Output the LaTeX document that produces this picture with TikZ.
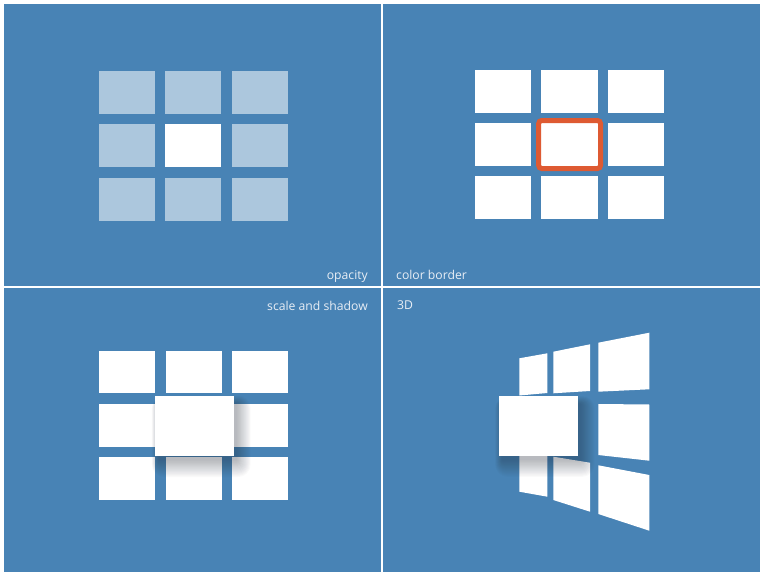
\documentclass[tikz,border=0pt]{standalone}
\usepackage{fontspec}
\setmainfont{Open Sans}
\definecolor{panelblue}{RGB}{72,131,181}
\definecolor{borderorange}{RGB}{222,90,50}
\definecolor{labeltext}{RGB}{232,238,245}
\definecolor{shadowc}{RGB}{20,30,45}
\tikzset{
  panel/.style={fill=panelblue},
  tile/.style={fill=white},
  fadedtile/.style={fill=white, fill opacity=0.55},
  bigtile/.style={draw=none, fill=white, inner sep=0pt, rectangle},
  label/.style={text=labeltext, font=\fontsize{12.2}{14}\selectfont, inner sep=0pt},
}
% soft shadow under a rectangle given by its corners (x1,y1) (x2,y2)
\newcommand\softshadow[4]{%
  \foreach \i in {1,...,16}{
    \fill[shadowc, opacity=0.02, rounded corners={\i*0.8pt}]
      ({#1+4-\i*0.45},{#2+8-\i*0.5}) rectangle ({#3+3+\i*0.9},{#4+4+\i*1.1});
  }%
}
\begin{document}
\begin{tikzpicture}[x=1pt,y=-1pt]
\useasboundingbox (0,0) rectangle (764,576);
\fill[white] (0,0) rectangle (764,576);
% panels
\fill[panel] (4,4) rectangle (381.3,285.5);
\fill[panel] (383.3,4) rectangle (760,285.5);
\fill[panel] (4,287.5) rectangle (381.3,572);
\fill[panel] (383.3,287.5) rectangle (760,572);

% ---- top left: opacity
\foreach \c in {0,1,2}{
  \foreach \r in {0,1,2}{
    \ifnum\c=1 \ifnum\r=1 \else
      \fill[fadedtile] ({98.7+66.5*\c},{71+53.3*\r}) rectangle +(56,43);
    \fi\else
      \fill[fadedtile] ({98.7+66.5*\c},{71+53.3*\r}) rectangle +(56,43);
    \fi
  }
}
\fill[tile] (165.2,124.3) rectangle +(56,43);
\node[label, anchor=base east] (lopacity) at (368,279) {opacity};

% ---- top right: color border
\foreach \c in {0,1,2}{
  \foreach \r in {0,1,2}{
    \fill[tile] ({474.7+66.5*\c},{69.7+53.3*\r}) rectangle +(56.3,43);
  }
}
\draw[borderorange, line width=5pt, rounded corners=3pt] (538.7,120.5) rectangle (600.5,168.5);
\node[label, anchor=base west] (lborder) at (396,279) {color border};

% ---- bottom left: scale and shadow
\foreach \c in {0,1,2}{
  \foreach \r in {0,1,2}{
    \fill[tile] ({99.3+66.5*\c},{350.7+53.3*\r}) rectangle +(56,42.7);
  }
}
\softshadow{155}{395.5}{233.3}{455.5}
\node[bigtile, minimum width=78.3pt, minimum height=60pt, anchor=north west] (bigbl) at (155,395.5) {};
\node[label, anchor=base east] (lscale) at (368,310) {scale and shadow};

% ---- bottom right: 3D
\fill[tile] (519.3,358.3) -- (547.3,353.3) -- (547.3,393) -- (519.3,395.5) -- cycle;
\fill[tile] (553.3,351.7) -- (590,344.3) -- (590,391) -- (553.3,393.3) -- cycle;
\fill[tile] (598.3,342.7) -- (649.3,332.7) -- (649.3,389.3) -- (598.3,391.7) -- cycle;
\fill[tile] (598.3,404) -- (649.3,404.5) -- (649.3,460.7) -- (598.3,455) -- cycle;
\fill[tile] (519.3,450) -- (547.3,452.5) -- (547.3,496.7) -- (519.3,491.7) -- cycle;
\fill[tile] (553.3,456.7) -- (590,462.7) -- (590,511.7) -- (553.3,500) -- cycle;
\fill[tile] (598.3,465.3) -- (649.3,475) -- (649.3,530.7) -- (598.3,514) -- cycle;
\softshadow{498.3}{396}{577.3}{455.3}
\node[bigtile, minimum width=79pt, minimum height=59.3pt, anchor=north west] (bigbr) at (498.3,396) {};
\node[label, anchor=base west] (l3d) at (397,309.5) {3D};
\end{tikzpicture}
\end{document}
